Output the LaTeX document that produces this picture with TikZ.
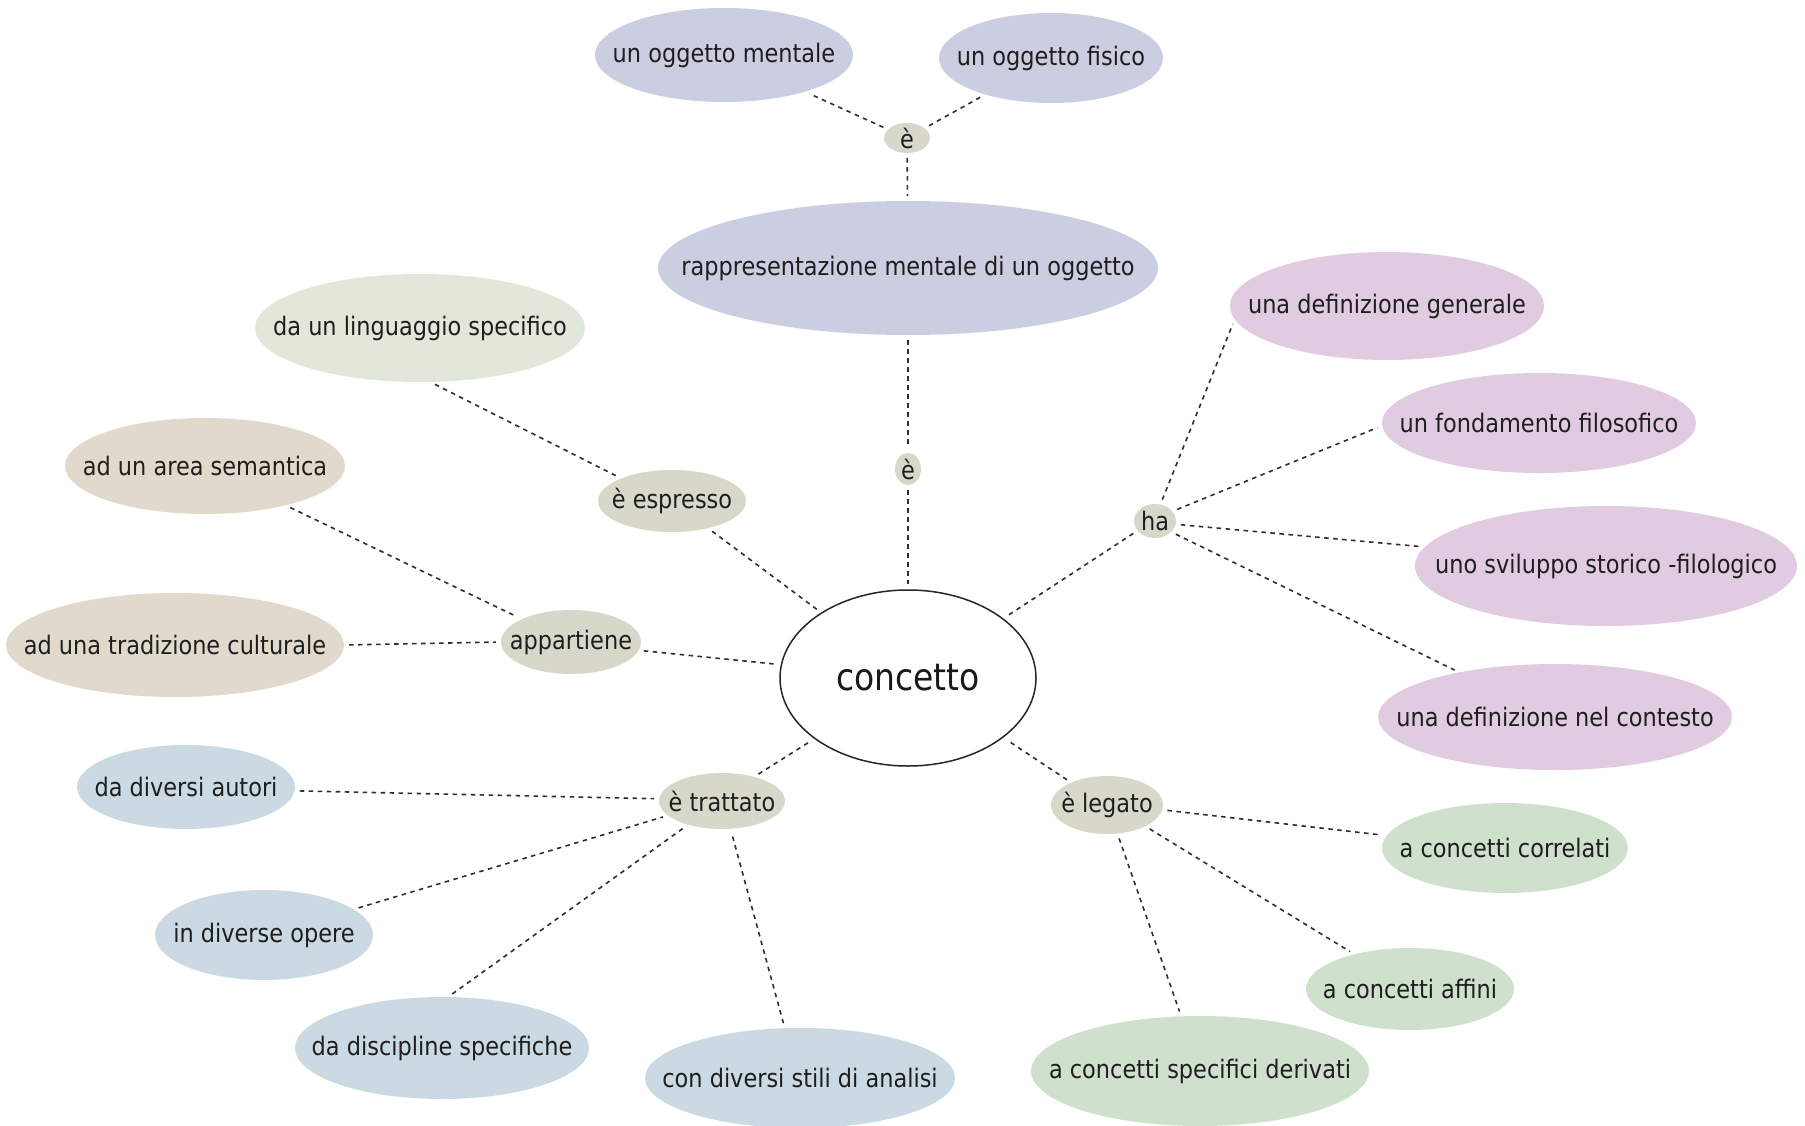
\documentclass[tikz,border=0pt]{standalone}
\usepackage{fontspec}
\setmainfont{DejaVu Sans}[FakeStretch=0.88]
\usetikzlibrary{shapes.geometric}
\definecolor{pur}{HTML}{CBCDE1}
\definecolor{lin}{HTML}{E1E7D9}
\definecolor{tan}{HTML}{E1D9CB}
\definecolor{blu}{HTML}{CBD9E2}
\definecolor{pnk}{HTML}{E1CBE1}
\definecolor{grn}{HTML}{CFE1CD}
\definecolor{lnk}{HTML}{D7D8CA}
\definecolor{txt}{HTML}{1E1E1E}
\begin{document}
\begin{tikzpicture}[x=1pt,y=-1pt,
  font=\fontsize{25.5}{30}\selectfont, text=txt,
  oval/.style n args={3}{ellipse, fill=#1, draw=none, minimum width=#2, minimum height=#3, inner sep=0pt},
  every label/.style={inner sep=0pt, text=txt},
  link/.style={draw=black!82, line width=1.6pt, dash pattern=on 4.5pt off 4.5pt, shorten <=5pt, shorten >=5pt}]
\fill[white] (0,0) rectangle (1805,1126);
\useasboundingbox (0,0) rectangle (1805,1126);

% top branch
\node[oval={pur}{258pt}{94pt}, label={center:un oggetto mentale}] (m1) at (724,55) {};
\node[oval={pur}{224pt}{90pt}, label={center:un oggetto fisico}] (m2) at (1051,58) {};
\node[oval={lnk}{46pt}{30pt}, label={center:è}] (e1) at (907,138) {};
\node[oval={pur}{500pt}{134pt}, label={center:rappresentazione mentale di un oggetto}] (rap) at (908,268) {};
\node[oval={lnk}{26pt}{32pt}, label={center:è}] (e2) at (908,469) {};

% centre
\node[ellipse, draw=black!85, line width=1.5pt, fill=white, minimum width=256pt, minimum height=176pt, inner sep=0pt, font=\fontsize{37.5}{44}\selectfont, text=black!90] (c) at (908,678) {concetto};

% left upper
\node[oval={lin}{330pt}{108pt}, label={center:da un linguaggio specifico}] (ling) at (420,328) {};
\node[oval={lnk}{148pt}{62pt}, label={center:è espresso}] (esp) at (672,501) {};
\node[oval={tan}{280pt}{96pt}, label={center:ad un area semantica}] (area) at (205,466) {};
\node[oval={tan}{338pt}{104pt}, label={center:ad una tradizione culturale}] (trad) at (175,645) {};
\node[oval={lnk}{140pt}{64pt}, label={center:appartiene}] (app) at (571,642) {};

% left lower
\node[oval={blu}{218pt}{84pt}, label={center:da diversi autori}] (aut) at (186,787) {};
\node[oval={lnk}{126pt}{56pt}, label={center:è trattato}] (tra) at (722,801) {};
\node[oval={blu}{218pt}{90pt}, label={center:in diverse opere}] (ope) at (264,935) {};
\node[oval={blu}{294pt}{102pt}, label={center:da discipline specifiche}] (dis) at (442,1048) {};
\node[oval={blu}{310pt}{100pt}, label={center:con diversi stili di analisi}] (sti) at (800,1078) {};

% right lower
\node[oval={lnk}{112pt}{58pt}, label={center:è legato}] (leg) at (1107,805) {};
\node[oval={grn}{246pt}{90pt}, label={center:a concetti correlati}] (cor) at (1505,848) {};
\node[oval={grn}{208pt}{82pt}, label={center:a concetti affini}] (aff) at (1410,989) {};
\node[oval={grn}{338pt}{110pt}, label={center:a concetti specifici derivati}] (der) at (1200,1071) {};

% right upper
\node[oval={lnk}{42pt}{34pt}, label={center:ha}] (ha) at (1155,521) {};
\node[oval={pnk}{314pt}{108pt}, label={center:una definizione generale}] (g1) at (1387,306) {};
\node[oval={pnk}{314pt}{100pt}, label={center:un fondamento filosofico}] (g2) at (1539,423) {};
\node[oval={pnk}{382pt}{120pt}, label={center:uno sviluppo storico -filologico}] (g3) at (1606,566) {};
\node[oval={pnk}{354pt}{106pt}, label={center:una definizione nel contesto}] (g4) at (1555,717) {};

% connectors
\draw[link] (e1) -- (m1);
\draw[link] (e1) -- (m2);
\draw[link] (e1) -- (rap);
\draw[link] (rap) -- (e2);
\draw[link] (e2) -- (c);
\draw[link] (ling.-79) -- (esp.156);
\draw[link] (esp.-37) -- (c.143);
\draw[link] (area.-26) -- (app.155);
\draw[link] (trad.0) -- (app.180);
\draw[link] (app.-7) -- (c.174);
\draw[link] (tra.37) -- (c.213);
\draw[link] (aut.-2) -- (tra.178);
\draw[link] (ope.16) -- (tra.195);
\draw[link] (dis.83) -- (tra.215);
\draw[link] (sti.107) -- (tra.-73);
\draw[link] (leg.148) -- (c.-32);
\draw[link] (leg.-5) -- (cor.174);
\draw[link] (leg.-29) -- (aff.148);
\draw[link] (leg.-70) -- (der.109);
\draw[link] (ha.209) -- (c.32);
\draw[link] (ha.72) -- (g1.185);
\draw[link] (ha.29) -- (g2.181);
\draw[link] (ha.-9) -- (g3.174);
\draw[link] (ha.-34) -- (g4.155);
\end{tikzpicture}
\end{document}
